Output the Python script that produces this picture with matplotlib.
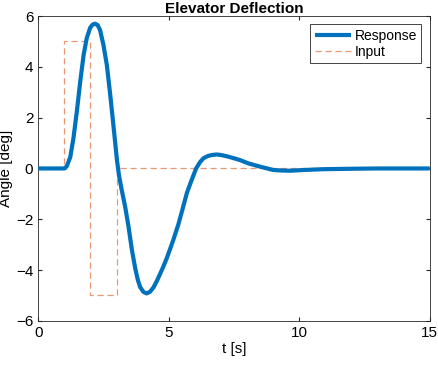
import numpy as np
import matplotlib.pyplot as plt

plt.rcParams['font.family'] = ['Liberation Sans', 'DejaVu Sans']

# response
t_resp = [0, 0.5, 1.0, 1.03, 1.1, 1.23, 1.35, 1.48, 1.61, 1.74, 1.86, 1.99, 2.08, 2.18,
          2.28, 2.37, 2.50, 2.63, 2.76, 2.88, 3.02, 3.1, 3.2, 3.33, 3.46, 3.59, 3.72,
          3.82, 3.91, 4.03, 4.15, 4.28, 4.42, 4.55, 4.67, 4.8, 4.93, 5.06, 5.18, 5.37,
          5.53, 5.7, 5.88, 6.05, 6.2, 6.33, 6.5, 6.66, 6.84, 7.0, 7.3, 7.73, 8.05,
          8.5, 9.0, 9.3, 9.64, 10.2, 10.9, 11.5, 12.2, 13.0, 14.0, 15.0]
y_resp = [0, 0, 0, 0.01, 0.1, 0.45, 1.19, 2.24, 3.42, 4.47, 5.13, 5.54, 5.66, 5.7,
          5.64, 5.45, 4.86, 4.07, 2.89, 1.71, 0.3, -0.3, -0.85, -1.5, -2.29, -3.21, -3.95,
          -4.4, -4.68, -4.86, -4.92, -4.86, -4.68, -4.42, -4.15, -3.85, -3.52, -3.15, -2.8, -2.2,
          -1.6, -0.95, -0.45, 0.0, 0.25, 0.4, 0.49, 0.53, 0.55, 0.53, 0.46, 0.33, 0.2,
          0.07, -0.06, -0.08, -0.09, -0.06, -0.03, -0.02, -0.01, 0.0, 0.0, 0.0]

# input doublet
t_in = [0, 1, 1, 2, 2, 3, 3, 15]
y_in = [0, 0, 5, 5, -5, -5, 0, 0]

fig = plt.figure(figsize=(4.39, 3.65), dpi=100)
ax = fig.add_axes([0.087, 0.121, 0.892, 0.835])

ax.plot(t_in, y_in, color='#D95319', linestyle=(0, (5, 3)), linewidth=0.9, alpha=0.6, label='Input', zorder=2)
ax.plot(t_resp, y_resp, color='#0072BD', linewidth=3, label='Response', zorder=3,
        solid_joinstyle='round', solid_capstyle='butt')

ax.set_xlim(0, 15)
ax.set_ylim(-6, 6)
ax.set_xticks([0, 5, 10, 15])
ax.set_yticks([-6, -4, -2, 0, 2, 4, 6])
ax.tick_params(direction='in', top=True, right=True, labelsize=11, length=3, color='#262626')
for s in ax.spines.values():
    s.set_color('#262626')
    s.set_linewidth(0.6)

ax.set_xlabel('t [s]', fontsize=11, labelpad=2)
ax.set_ylabel('Angle [deg]', fontsize=11, labelpad=2)
ax.set_title('Elevator Deflection', fontsize=11, fontweight='bold', pad=2)

h, l = ax.get_legend_handles_labels()
leg = ax.legend(h[::-1], l[::-1], loc='upper right', fontsize=10, fancybox=False,
                edgecolor='#262626', framealpha=1, handlelength=2.6, borderpad=0.3,
                labelspacing=0.15, borderaxespad=0.6, handletextpad=0.3)
leg.get_frame().set_linewidth(0.6)

fig.savefig('out.png', dpi=100)
